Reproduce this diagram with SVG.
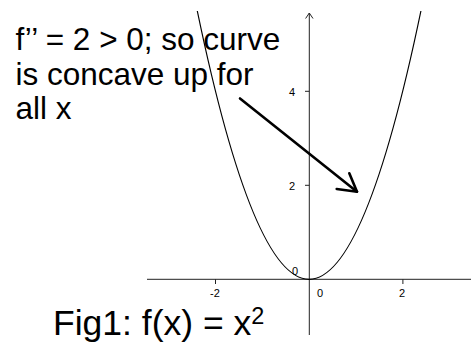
<svg xmlns="http://www.w3.org/2000/svg" width="471" height="343" viewBox="0 0 471 343">
  <style>
    .big { font-family: "Liberation Sans", Arial, sans-serif; fill: #000; }
    .tick { font-family: "Liberation Sans", Arial, sans-serif; font-size: 11px; fill: #000; text-anchor: middle; }
    .axis { stroke: #222; stroke-width: 1; fill: none; }
    .curve { stroke: #000; stroke-width: 1.2; fill: none; }
    .pointer { stroke: #000; stroke-width: 2.6; fill: none; stroke-linecap: round; stroke-linejoin: round; }
  </style>
  <rect width="471" height="343" fill="#fff"/>
  <g id="axes">
    <line class="axis" x1="147" y1="279.3" x2="471" y2="279.3"/>
    <line class="axis" x1="309.3" y1="13" x2="309.3" y2="335"/>
    <polyline class="axis" points="305.6,18.5 309.3,13 313,18.5"/>
    <line class="axis" x1="215.5" y1="279.3" x2="215.5" y2="284"/>
    <line class="axis" x1="402.9" y1="279.3" x2="402.9" y2="284"/>
    <line class="axis" x1="305" y1="91.3" x2="309.3" y2="91.3"/>
    <line class="axis" x1="305" y1="185.3" x2="309.3" y2="185.3"/>
  </g>
  <g id="tick-labels">
    <text class="tick" x="292" y="96">4</text>
    <text class="tick" x="292" y="190">2</text>
    <text class="tick" x="295" y="275">0</text>
    <text class="tick" x="215" y="297">-2</text>
    <text class="tick" x="320" y="297">0</text>
    <text class="tick" x="402" y="297">2</text>
  </g>
  <g id="curve">
    <path class="curve" d="M197.3,11 Q309.1,547.6 420.9,11"/>
  </g>
  <g id="note">
    <text class="big" font-size="31.5" x="15.4" y="50">f’’ = 2 &gt; 0; so curve</text>
    <text class="big" font-size="31.5" x="15.4" y="84.5">is concave up for</text>
    <text class="big" font-size="31.5" x="15.4" y="119">all x</text>
  </g>
  <g id="connectors">
    <line class="pointer" x1="240" y1="98.5" x2="357" y2="191.7"/>
    <polyline class="pointer" points="336.7,189 357,191.7 349.3,173.3"/>
  </g>
  <g id="caption">
    <text class="big" font-size="35.5" x="53" y="335">Fig1: f(x) = x<tspan font-size="23.5" dy="-11">2</tspan></text>
  </g>
</svg>
